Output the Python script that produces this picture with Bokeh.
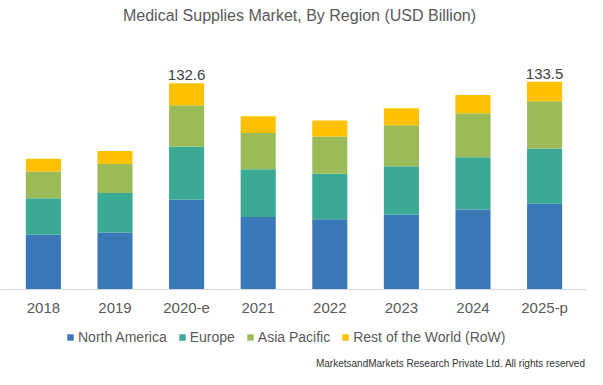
from bokeh.plotting import figure
from bokeh.models import ColumnDataSource, Legend, LegendItem, Label, FactorRange, Span
from bokeh.core.properties import value
from bokeh.embed import file_html
from bokeh.resources import INLINE

years = ["2018", "2019", "2020-e", "2021", "2022", "2023", "2024", "2025-p"]
north_america = [35.4, 36.6, 57.9, 46.7, 45.2, 48.0, 51.4, 55.1]
europe = [23.3, 25.5, 34.1, 30.6, 29.2, 31.2, 33.6, 35.5]
asia_pacific = [17.2, 18.6, 26.4, 23.4, 24.0, 26.4, 28.3, 30.5]
rest_of_world = [8.2, 8.4, 14.2, 10.7, 10.3, 10.9, 11.8, 12.4]
bar_labels = ["", "", "132.6", "", "", "", "", "133.5"]

series = ["North America", "Europe", "Asia Pacific", "Rest of the World (RoW)"]
keys = ["na", "eu", "ap", "row"]
colors = ["#3A78B7", "#3AAA94", "#9BBB59", "#FFC000"]

totals = [a + b + c + d for a, b, c, d in zip(north_america, europe, asia_pacific, rest_of_world)]
src = ColumnDataSource(dict(year=years, na=north_america, eu=europe, ap=asia_pacific,
                            row=rest_of_world, total=totals, lab=bar_labels,
                            base=[0] * len(years)))

FONT = "Liberation Sans"
W, H = 587, 369

p = figure(x_range=FactorRange(*years, range_padding=0.02475), y_range=(-51.4, 185.8),
           width=W, height=H, output_backend="svg", toolbar_location=None,
           min_border_left=0, min_border_right=0, min_border_top=0, min_border_bottom=0)
p.xaxis.visible = False
p.yaxis.visible = False
p.xgrid.visible = False
p.ygrid.visible = False
p.outline_line_color = None

rs = p.vbar_stack(keys, x="year", width=0.49, color=colors, source=src, line_color=None)

p.add_layout(Span(location=0, dimension="width", line_color="#D9D9D9", line_width=1))

# category labels under the baseline
p.text(x="year", y="base", text="year", source=src, text_align="center",
       text_baseline="middle", y_offset=18, text_font=value(FONT),
       text_font_size="15px", text_color="#595959")

# totals above selected bars
p.text(x="year", y="total", text="lab", source=src, text_align="center",
       text_baseline="alphabetic", y_offset=-8, text_font=value(FONT),
       text_font_size="15px", text_color="#404040")

p.add_layout(Label(x=299, y=H - 15, x_units="screen", y_units="screen",
                   text="Medical Supplies Market, By Region (USD Billion)",
                   text_align="center", text_baseline="middle", text_font=FONT,
                   text_font_size="16px", text_color="#595959"))

items = [LegendItem(label=s, renderers=[r]) for s, r in zip(series, rs)]
legend = Legend(items=items, orientation="horizontal", location=(66, H - 347),
                glyph_width=8, glyph_height=8, label_standoff=4, spacing=11,
                label_height=20, label_text_baseline="middle",
                label_text_font=FONT, label_text_font_size="14px",
                label_text_color="#595959", border_line_color=None,
                background_fill_alpha=0, padding=0, margin=0)
p.add_layout(legend, "center")

p.add_layout(Label(x=585, y=H - 363, x_units="screen", y_units="screen",
                   text="MarketsandMarkets Research Private Ltd. All rights reserved",
                   text_align="right", text_baseline="middle", text_font=FONT,
                   text_font_size="10px", text_color="#333333"))

open("out.html", "w").write(file_html(p, INLINE))
